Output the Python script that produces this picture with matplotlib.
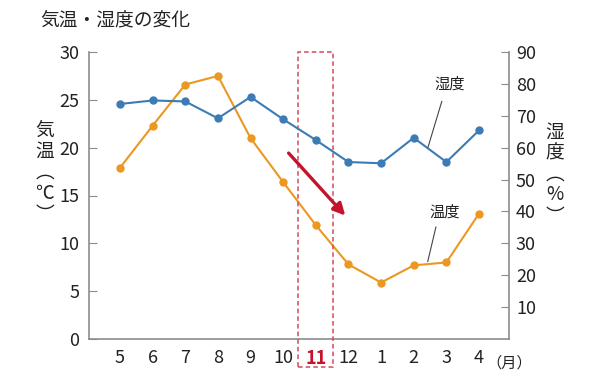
import matplotlib
matplotlib.use("Agg")
import matplotlib.pyplot as plt
from matplotlib.patches import Rectangle
import matplotlib.transforms as mtransforms

plt.rcParams['font.family'] = ['Noto Sans CJK JP', 'DejaVu Sans']

months = ['5', '6', '7', '8', '9', '10', '11', '12', '1', '2', '3', '4']
temperature = [17.9, 22.3, 26.6, 27.5, 21.0, 16.4, 11.9, 7.8, 5.9, 7.7, 8.0, 13.1]
humidity = [73.7, 74.8, 74.5, 69.2, 75.9, 68.9, 62.4, 55.5, 55.1, 63.1, 55.5, 65.4]
temp_ticks = [0, 5, 10, 15, 20, 25, 30]
hum_ticks = [10, 20, 30, 40, 50, 60, 70, 80, 90]
highlight = '11'

blue = '#3b7bb6'
orange = '#eb9722'
axis_gray = '#8c8c8c'
red = '#c4142c'
box_red = '#d24a5c'
txt = '#222222'

fig = plt.figure(figsize=(6.01, 3.77), dpi=100)
ax = fig.add_axes([89/601, 1 - 339/377, (509-89)/601, (339-52)/377])
ax2 = ax.twinx()

x = list(range(len(months)))
ax.plot(x, temperature, color=orange, lw=1.5, marker='o', ms=5, zorder=3)
ax2.plot(x, humidity, color=blue, lw=1.5, marker='o', ms=5, zorder=3)

ax.set_xlim(-0.95, 11.92)
ax.set_ylim(0, 30)
ax2.set_ylim(0, 90)

for a in (ax, ax2):
    a.spines['top'].set_visible(False)
    for s in ('left', 'right', 'bottom'):
        a.spines[s].set_color(axis_gray)
        a.spines[s].set_linewidth(1.2)
ax.spines['right'].set_visible(False)
ax2.spines['left'].set_visible(False)
ax2.spines['bottom'].set_visible(False)

ax.tick_params(axis='y', direction='in', length=6, color=axis_gray, pad=7, labelcolor=txt)
ax2.tick_params(axis='y', direction='in', length=6, color=axis_gray, pad=5, labelcolor=txt)
ax.tick_params(axis='x', length=0, pad=7)

ax.set_yticks(temp_ticks)
ax.set_yticklabels([str(t) for t in temp_ticks], fontsize=13)
ax2.set_yticks(hum_ticks)
ax2.set_yticklabels([str(t) for t in hum_ticks], fontsize=13)
ax.set_xticks(x)
ax.set_xticklabels(months, fontsize=13, color=txt)
for lbl in ax.get_xticklabels():
    if lbl.get_text() == highlight:
        lbl.set_color(red)
        lbl.set_fontweight('bold')

trans = mtransforms.blended_transform_factory(ax.transData, ax.transAxes)

# month unit
ax.text(11.92, -0.055, '（月）', transform=trans, fontsize=11, va='top', ha='center', color=txt)

# highlight box
idx = months.index(highlight)
rect = Rectangle((idx - 0.54, -0.098), 1.08, 1.098, transform=trans, fill=False,
                 ec=box_red, lw=1.1, ls=(0, (3, 2)), clip_on=False, zorder=4)
ax.add_patch(rect)

# red arrow
ax.annotate('', xy=(6.96, 12.68), xytext=(5.11, 19.65),
            arrowprops=dict(arrowstyle='-|>,head_length=0.7,head_width=0.35', color=red, lw=2.4),
            zorder=5)

# series labels with leader lines
ax2.text(10.1, 80.0, '湿度', fontsize=11, ha='center', va='center', color=txt)
ax2.plot([9.86, 9.44], [74.5, 60.2], color='#444444', lw=0.8, zorder=4)
ax.text(9.96, 13.3, '温度', fontsize=11, ha='center', va='center', color=txt)
ax.plot([9.68, 9.43], [11.7, 8.1], color='#444444', lw=0.8, zorder=4)

# axis titles (vertical)
fig.text(45/601, 1 - 172/377, '気\n温\n︵\n℃\n︶', fontsize=13.5, ha='center', va='center',
         linespacing=1.0, color=txt)
fig.text(555/601, 1 - 174/377, '湿\n度\n︵\n%\n︶', fontsize=13.5, ha='center', va='center',
         linespacing=1.0, color=txt)

fig.text(40/601, 1 - 20/377, '気温・湿度の変化', fontsize=13.5, ha='left', va='center', color=txt)

fig.savefig('out.png', dpi=100)
